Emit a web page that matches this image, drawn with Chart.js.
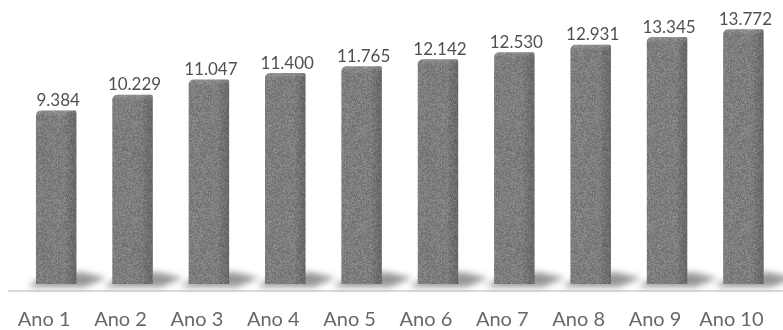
<!DOCTYPE html>
<html>
<head>
<meta charset="utf-8">
<script src="https://cdn.jsdelivr.net/npm/chart.js@4/dist/chart.umd.min.js"></script>
<style>
  html, body { margin: 0; padding: 0; background: #ffffff; overflow: hidden; }
  #wrap { position: relative; width: 800px; height: 330px; }
</style>
</head>
<body>
<div id="wrap"><canvas id="chart" width="800" height="330"></canvas></div>
<script>
// Yearly projection, one bar per year
const categories = ['Ano 1', 'Ano 2', 'Ano 3', 'Ano 4', 'Ano 5', 'Ano 6', 'Ano 7', 'Ano 8', 'Ano 9', 'Ano 10'];
const values = [9384, 10229, 11047, 11400, 11765, 12142, 12530, 12931, 13345, 13772];

// Brazilian thousands separator: 9384 -> "9.384"
function fmt(v) {
  return String(Math.round(v)).replace(/\B(?=(\d{3})+(?!\d))/g, '.');
}

// Fine grey grain for the bar faces (deterministic LCG)
function makeGrain() {
  const c = document.createElement('canvas');
  c.width = 96; c.height = 96;
  const g = c.getContext('2d');
  const img = g.createImageData(96, 96);
  let s = 12345;
  for (let i = 0; i < 96 * 96; i++) {
    s = (s * 1103515245 + 12345) & 0x7fffffff;
    const n = ((s >> 8) % 36) - 18;
    const v = 126 + n;
    img.data[i * 4] = v; img.data[i * 4 + 1] = v; img.data[i * 4 + 2] = v; img.data[i * 4 + 3] = 255;
  }
  g.putImageData(img, 0, 0);
  return c;
}

const ctx0 = document.getElementById('chart').getContext('2d');
const grain = ctx0.createPattern(makeGrain(), 'repeat');

const barDecor = {
  id: 'barDecor',
  beforeDatasetsDraw(chart) {
    const ctx = chart.ctx;
    const meta = chart.getDatasetMeta(0);
    const area = chart.chartArea;
    // floor line
    ctx.save();
    ctx.strokeStyle = '#dadada';
    ctx.lineWidth = 2;
    ctx.beginPath();
    ctx.moveTo(8, area.bottom + 7);
    ctx.lineTo(chart.width, area.bottom + 7);
    ctx.stroke();
    ctx.restore();
    // soft shadows at the foot of each bar
    meta.data.forEach(bar => {
      const w = bar.width;
      const l = bar.x - w / 2, r = bar.x + w / 2, b = bar.base;
      ctx.save();
      ctx.filter = 'blur(3px)';
      ctx.fillStyle = 'rgba(80,80,80,0.6)';
      ctx.beginPath();
      ctx.moveTo(l - 8, b + 3);
      ctx.lineTo(r + 8, b + 3);
      ctx.lineTo(r + 30, b - 6);
      ctx.lineTo(r + 4, b - 12);
      ctx.lineTo(l + 2, b - 4);
      ctx.closePath();
      ctx.fill();
      ctx.restore();
    });
  },
  afterDatasetsDraw(chart) {
    const ctx = chart.ctx;
    const meta = chart.getDatasetMeta(0);
    meta.data.forEach((bar, i) => {
      const w = bar.width;
      const l = bar.x - w / 2, r = bar.x + w / 2, t = bar.y, b = bar.base;
      ctx.save();
      // darker right side face
      const side = ctx.createLinearGradient(r - 10, 0, r, 0);
      side.addColorStop(0, 'rgba(0,0,0,0.04)');
      side.addColorStop(1, 'rgba(0,0,0,0.18)');
      ctx.fillStyle = side;
      ctx.fillRect(r - 10, t, 10, b - t);
      // top bevel
      const top = ctx.createLinearGradient(0, t, 0, t + 6);
      top.addColorStop(0, 'rgba(255,255,255,0.15)');
      top.addColorStop(1, 'rgba(255,255,255,0)');
      ctx.fillStyle = top;
      ctx.fillRect(l, t, w, 6);
      ctx.restore();

      // value label
      ctx.save();
      ctx.font = '17px Lato, "Open Sans", sans-serif';
      ctx.fillStyle = '#505050';
      ctx.textAlign = 'center';
      ctx.textBaseline = 'middle';
      ctx.fillText(fmt(values[i]), bar.x + 2, t - 10);
      ctx.restore();
    });
  }
};

new Chart(ctx0, {
  type: 'bar',
  data: {
    labels: categories,
    datasets: [{
      data: values,
      backgroundColor: grain,
      borderWidth: 0,
      borderRadius: { topLeft: 5, topRight: 2 },
      borderSkipped: 'bottom',
      barPercentage: 0.53,
      categoryPercentage: 1.0
    }]
  },
  options: {
    responsive: false,
    animation: false,
    events: [],
    layout: { padding: { left: 18, right: 9, top: 0, bottom: 0 } },
    plugins: {
      legend: { display: false },
      tooltip: { enabled: false },
      title: { display: false }
    },
    scales: {
      x: {
        grid: { display: false, drawTicks: false },
        border: { display: false },
        afterFit(scale) { scale.height = 46; },
        ticks: {
          color: '#686868',
          font: { family: 'Lato, "Open Sans", sans-serif', size: 20 },
          padding: 24,
          labelOffset: -12,
          maxRotation: 0,
          autoSkip: false
        }
      },
      y: {
        display: false,
        min: 0,
        max: 15350
      }
    }
  },
  plugins: [barDecor]
});
</script>
</body>
</html>
